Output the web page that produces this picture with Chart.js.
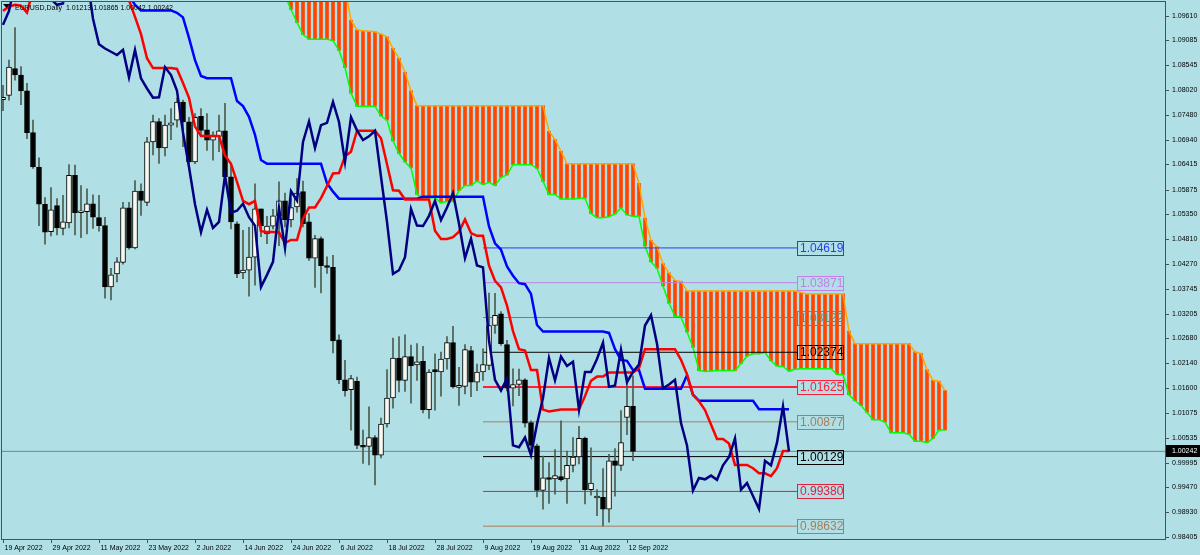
<!DOCTYPE html>
<html>
<head>
<meta charset="utf-8">
<title>EURUSD,Daily</title>
<script src="https://cdn.jsdelivr.net/npm/chart.js@4.4.0/dist/chart.umd.min.js"></script>
<style>
  html, body { margin: 0; padding: 0; background: #b0e0e6; }
  #wrap { width: 1200px; height: 555px; }
</style>
</head>
<body>
<div id="wrap"><canvas id="chart" width="1200" height="555"></canvas></div>
<script>
// daily candles, 19 Apr 2022 .. 13 Sep 2022 (bar index 0..105)
const opens = [1.0781,1.0790,1.0848,1.0834,1.0800,1.0710,1.0636,1.0556,1.0497,1.0553,
  1.0504,1.0516,1.0618,1.0538,1.0540,1.0557,1.0527,1.0510,1.0378,1.0406,
  1.0431,1.0548,1.0462,1.0584,1.0560,1.0690,1.0734,1.0677,1.0726,1.0737,
  1.0776,1.0733,1.0647,1.0745,1.0716,1.0694,1.0702,1.0714,1.0615,1.0514,
  1.0408,1.0414,1.0442,1.0546,1.0492,1.0509,1.0531,1.0563,1.0522,1.0550,
  1.0583,1.0518,1.0440,1.0482,1.0424,1.0420,1.0264,1.0178,1.0157,1.0175,
  1.0037,1.0035,1.0054,1.0016,1.0083,1.0139,1.0225,1.0177,1.0228,1.0210,
  1.0218,1.0114,1.0200,1.0195,1.0223,1.0258,1.0162,1.0164,1.0241,1.0173,
  1.0195,1.0209,1.0295,1.0320,1.0254,1.0160,1.0168,1.0178,1.0086,1.0036,
  0.9940,0.9968,0.9965,0.9970,0.9965,0.9994,1.0012,1.0053,0.9942,0.9924,
  0.9925,0.9900,1.0004,0.9994,1.0097,1.01213];
const highs = [1.0812,1.0866,1.0936,1.0852,1.0816,1.0737,1.0656,1.0570,1.0592,1.0568,
  1.0575,1.0641,1.0640,1.0596,1.0589,1.0576,1.0575,1.0528,1.0418,1.0441,
  1.0560,1.0560,1.0607,1.0600,1.0700,1.0748,1.0740,1.0748,1.0762,1.0785,
  1.0780,1.0743,1.0751,1.0762,1.0751,1.0712,1.0748,1.0773,1.0640,1.0518,
  1.0500,1.0506,1.0600,1.0546,1.0530,1.0545,1.0604,1.0580,1.0568,1.0611,
  1.0606,1.0536,1.0489,1.0486,1.0443,1.0446,1.0275,1.0220,1.0188,1.0184,
  1.0070,1.0120,1.0058,1.0096,1.0200,1.0268,1.0271,1.0275,1.0253,1.0256,
  1.0250,1.0200,1.0234,1.0238,1.0271,1.0293,1.0205,1.0254,1.0250,1.0212,
  1.0245,1.0365,1.0364,1.0325,1.0263,1.0202,1.0201,1.0181,1.0090,1.0040,
  1.0014,1.0000,1.0028,1.0090,1.0025,1.0054,1.0078,1.0055,1.0032,0.9942,
  0.9987,1.0018,1.0030,1.0112,1.0186,1.01865];
const lows = [1.0757,1.0780,1.0823,1.0770,1.0697,1.0633,1.0510,1.0470,1.0488,1.0490,
  1.0490,1.0505,1.0490,1.0484,1.0492,1.0504,1.0498,1.0354,1.0350,1.0389,
  1.0427,1.0459,1.0460,1.0532,1.0553,1.0662,1.0644,1.0660,1.0695,1.0722,
  1.0680,1.0643,1.0643,1.0705,1.0672,1.0651,1.0669,1.0610,1.0503,1.0398,
  1.0396,1.0358,1.0382,1.0486,1.0471,1.0503,1.0467,1.0507,1.0507,1.0539,
  1.0507,1.0435,1.0377,1.0365,1.0407,1.0236,1.0170,1.0143,1.0070,1.0030,
  0.9998,0.9995,0.9952,1.0010,1.0076,1.0117,1.0152,1.0153,1.0128,1.0177,
  1.0107,1.0095,1.0113,1.0143,1.0201,1.0160,1.0123,1.0148,1.0142,1.0155,
  1.0177,1.0200,1.0278,1.0252,1.0154,1.0122,1.0144,1.0076,1.0015,0.9926,
  0.9900,0.9912,0.9932,0.9960,0.9912,0.9980,0.9997,0.9911,0.9930,0.9886,
  0.9864,0.9872,0.9928,0.9983,1.0060,1.00042];
const closes = [1.0786,1.0851,1.0834,1.0800,1.0710,1.0636,1.0556,1.0496,1.0544,1.0505,
  1.0518,1.0618,1.0538,1.0542,1.0557,1.0528,1.0510,1.0378,1.0404,1.0432,
  1.0548,1.0462,1.0584,1.0564,1.0690,1.0734,1.0677,1.0726,1.0731,1.0776,
  1.0733,1.0647,1.0743,1.0715,1.0694,1.0702,1.0714,1.0615,1.0518,1.0406,
  1.0414,1.0442,1.0546,1.0510,1.0509,1.0531,1.0563,1.0522,1.0549,1.0580,
  1.0514,1.0440,1.0482,1.0424,1.0420,1.0262,1.0178,1.0155,1.0181,1.0037,
  1.0033,1.0054,1.0016,1.0083,1.0139,1.0225,1.0177,1.0228,1.0208,1.0217,
  1.0114,1.0195,1.0195,1.0223,1.0258,1.0163,1.0166,1.0243,1.0173,1.0195,
  1.0211,1.0295,1.0317,1.0256,1.0160,1.0168,1.0178,1.0085,1.0037,0.9940,
  0.9967,0.9964,0.9972,0.9963,0.9994,1.0012,1.0052,0.9942,0.9956,0.9928,
  0.9900,1.0004,0.9994,1.0043,1.0121,1.00242];

// navy price line, first 26 points before the candle closes continue it
const navyLead = [1.0942,1.0972,1.1030,1.1090,1.1050,1.1016,1.1018,1.1005,1.0997,1.0985,
  1.0988,1.1087,1.1150,1.1067,1.1047,1.0955,1.0900,1.0891,1.0884,1.0877,
  1.0888,1.0829,1.0888,1.0827,1.0805,1.0785];

// red line, index 0..131
const redLine = [1.0972,1.0981,1.0985,1.0983,1.0968,1.1018,1.1025,1.1030,1.1040,1.1045,
  1.1050,1.1055,1.1060,1.1060,1.1050,1.1040,1.1030,1.1020,1.1015,1.1010,
  1.1005,1.0995,1.0959,1.0922,1.0870,1.0849,1.0849,1.0849,1.0849,1.0847,
  1.0817,1.0785,1.0723,1.0703,1.0703,1.0703,1.0703,1.0661,1.0643,1.0604,
  1.0563,1.0556,1.0563,1.0498,1.0496,1.0496,1.0495,1.0473,1.0479,1.0479,
  1.0525,1.0549,1.0549,1.0569,1.0595,1.0622,1.0623,1.0659,1.0669,1.0714,
  1.0714,1.0714,1.0714,1.0698,1.0642,1.0586,1.0585,1.0566,1.0566,1.0566,
  1.0566,1.0566,1.0499,1.0481,1.0481,1.0485,1.0497,1.0523,1.0494,1.0488,
  1.0488,1.0424,1.0391,1.0377,1.0338,1.0283,1.0244,1.0241,1.0199,1.0199,
  1.0114,1.0110,1.0112,1.0114,1.0114,1.0114,1.0114,1.0143,1.0176,1.0185,
  1.0185,1.0194,1.0194,1.0194,1.0194,1.0194,1.0203,1.0244,1.0244,1.0244,
  1.0244,1.0244,1.0244,1.0221,1.0190,1.0146,1.0132,1.0113,1.0082,1.0051,
  1.0051,1.0041,0.9995,0.9995,0.9995,0.9988,0.9977,0.9977,0.9971,0.9988,
  1.0025,1.0025];

// blue line, index 0..131
const blueLine = [1.1050,1.1050,1.1050,1.1050,1.1050,1.1050,1.1050,1.1050,1.1050,1.1050,
  1.1040,1.1040,1.1040,1.1040,1.1030,1.1030,1.1030,1.1030,1.1020,1.1020,
  1.1010,1.1005,1.0985,1.0973,1.0973,1.0973,1.0973,1.0973,1.0973,1.0968,
  1.0958,1.0914,1.0866,1.0832,1.0827,1.0827,1.0827,1.0827,1.0827,1.0778,
  1.0767,1.0744,1.0705,1.0651,1.0643,1.0643,1.0643,1.0643,1.0643,1.0643,
  1.0643,1.0643,1.0643,1.0643,1.0601,1.0583,1.0568,1.0568,1.0568,1.0568,
  1.0568,1.0568,1.0568,1.0568,1.0568,1.0568,1.0568,1.0568,1.0568,1.0568,
  1.0572,1.0572,1.0572,1.0572,1.0572,1.0572,1.0572,1.0572,1.0572,1.0572,
  1.0572,1.0508,1.0472,1.0458,1.0422,1.0402,1.0386,1.0384,1.0363,1.0296,
  1.0282,1.0282,1.0282,1.0282,1.0282,1.0282,1.0282,1.0282,1.0282,1.0282,
  1.0282,1.0279,1.0244,1.0221,1.0219,1.0199,1.0199,1.0159,1.0159,1.0159,
  1.0159,1.0159,1.0159,1.0159,1.0188,1.0146,1.0133,1.0133,1.0133,1.0133,
  1.0133,1.0133,1.0133,1.0133,1.0133,1.0133,1.0115,1.0115,1.0115,1.0115,
  1.0115,1.0115];

// cloud edges, index 44..157
const cloudStart = 44;
const cloudLow = [1.1030,1.1025,1.1015,1.1005,1.0975,1.0947,1.0921,1.0911,1.0911,1.0911,
  1.0911,1.0908,1.0887,1.0850,1.0795,1.0767,1.0767,1.0767,1.0767,1.0746,
  1.0737,1.0692,1.0665,1.0647,1.0634,1.0577,1.0570,1.0570,1.0570,1.0559,
  1.0562,1.0562,1.0585,1.0596,1.0596,1.0606,1.0598,1.0603,1.0596,1.0614,
  1.0619,1.0641,1.0641,1.0641,1.0641,1.0633,1.0605,1.0577,1.0577,1.0567,
  1.0567,1.0567,1.0569,1.0569,1.0536,1.0527,1.0527,1.0529,1.0535,1.0548,
  1.0533,1.0530,1.0530,1.0466,1.0432,1.0418,1.0380,1.0343,1.0315,1.0313,
  1.0281,1.0248,1.0198,1.0196,1.0197,1.0198,1.0198,1.0198,1.0198,1.0213,
  1.0229,1.0234,1.0234,1.0237,1.0219,1.0208,1.0207,1.0197,1.0201,1.0202,
  1.0202,1.0202,1.0202,1.0202,1.0202,1.0190,1.0189,1.0146,1.0133,1.0123,
  1.0108,1.0092,1.0092,1.0087,1.0064,1.0064,1.0064,1.0061,1.0046,1.0046,
  1.0043,1.0052,1.0070,1.0070];
const cloudHigh = [1.1100,1.1100,1.1100,1.1100,1.1100,1.1100,1.1100,1.1100,1.1100,1.1100,
  1.1100,1.1100,1.1080,1.1020,1.0952,1.0931,1.0929,1.0928,1.0927,1.0922,
  1.0916,1.0891,1.0870,1.0840,1.0800,1.0768,1.0768,1.0768,1.0768,1.0768,
  1.0768,1.0768,1.0768,1.0768,1.0768,1.0768,1.0768,1.0768,1.0768,1.0768,
  1.0768,1.0768,1.0768,1.0768,1.0768,1.0768,1.0768,1.0713,1.0695,1.0670,
  1.0643,1.0643,1.0643,1.0643,1.0643,1.0643,1.0643,1.0643,1.0643,1.0643,
  1.0643,1.0643,1.0601,1.0526,1.0478,1.0464,1.0428,1.0408,1.0392,1.0390,
  1.0369,1.0369,1.0369,1.0369,1.0369,1.0369,1.0369,1.0369,1.0369,1.0369,
  1.0369,1.0369,1.0369,1.0369,1.0369,1.0369,1.0369,1.0369,1.0369,1.0366,
  1.0363,1.0363,1.0363,1.0363,1.0363,1.0363,1.0363,1.0283,1.0256,1.0256,
  1.0256,1.0256,1.0256,1.0256,1.0256,1.0256,1.0256,1.0256,1.0238,1.0235,
  1.0200,1.0177,1.0175,1.0155];

// horizontal levels
const levels = [1.04619, 1.03871, 1.03122, 1.02374, 1.01625, 1.00877, 1.00129, 0.99380, 0.98632];
const levelColors = ['#2e3cf2', '#c27fe6', '#4f9478', '#000000', '#ff1e3c', '#a87c5c', '#000000', '#e0203c', '#a87c5c'];
const levelStart = 80;
const levelEnd = 132.33;
const lastPrice = 1.00242;

// axis labels
const yTicks = [1.09610, 1.09085, 1.08545, 1.08020, 1.07480, 1.06940, 1.06415, 1.05875, 1.05350, 1.04810,
  1.04270, 1.03745, 1.03205, 1.02680, 1.02140, 1.01600, 1.01075, 1.00535, 0.99995, 0.99470, 0.98930, 0.98405];
const dateIdx = [0, 8, 16, 24, 32, 40, 48, 56, 64, 72, 80, 88, 96, 104];
const dateLabels = ['19 Apr 2022', '29 Apr 2022', '11 May 2022', '23 May 2022', '2 Jun 2022', '14 Jun 2022',
  '24 Jun 2022', '6 Jul 2022', '18 Jul 2022', '28 Jul 2022', '9 Aug 2022', '19 Aug 2022', '31 Aug 2022', '12 Sep 2022'];
const title = 'EURUSD,Daily  1.01213 1.01865 1.00042 1.00242';

function pts(arr, start) {
  return arr.map(function (v, i) { return { x: i + start, y: v }; });
}

var datasets = [];

// lines on top
datasets.push({ type: 'line', data: pts(navyLead.concat(closes), 0), borderColor: '#000080', borderWidth: 2.5, pointRadius: 0, order: 0 });
datasets.push({ type: 'line', data: pts(redLine, 0), borderColor: '#ff0000', borderWidth: 2.5, pointRadius: 0, order: 1 });
datasets.push({ type: 'line', data: pts(blueLine, 0), borderColor: '#0000ff', borderWidth: 2.5, pointRadius: 0, order: 2 });

// candles
datasets.push({
  type: 'bar', order: 3, barThickness: 5, borderWidth: 1, borderColor: '#000000', borderSkipped: false,
  data: opens.map(function (o, i) { return { x: i, y: [o, closes[i]] }; }),
  backgroundColor: opens.map(function (o, i) { return closes[i] >= o ? '#f8f8f0' : '#000000'; })
});
datasets.push({
  type: 'bar', order: 4, barThickness: 1, backgroundColor: '#4c5c4c',
  data: lows.map(function (l, i) { return { x: i, y: [l, highs[i]] }; })
});

// levels
levels.forEach(function (v, k) {
  datasets.push({
    type: 'line', order: 5, borderColor: levelColors[k], borderWidth: v === 1.01625 ? 2 : 1, pointRadius: 0,
    data: [{ x: levelStart, y: v }, { x: levelEnd, y: v }]
  });
});

// cloud
datasets.push({ type: 'line', data: pts(cloudHigh, cloudStart), borderColor: '#ffa500', borderWidth: 1.5, pointRadius: 0, order: 6 });
datasets.push({ type: 'line', data: pts(cloudLow, cloudStart), borderColor: '#00ff00', borderWidth: 1.5, pointRadius: 0, order: 6 });
datasets.push({
  type: 'bar', order: 7, barThickness: 3, backgroundColor: '#ff4500',
  data: cloudLow.map(function (v, i) { return { x: i + cloudStart, y: [v, cloudHigh[i]] }; })
});

// current price line
datasets.push({ type: 'line', order: 9, borderColor: '#74858a', borderWidth: 1, pointRadius: 0,
  data: [{ x: -1, y: lastPrice }, { x: 200, y: lastPrice }] });

const mt4Axes = {
  id: 'mt4Axes',
  afterDatasetsDraw(chart) {
    var c = chart.ctx, a = chart.chartArea, xs = chart.scales.x, ys = chart.scales.y;
    c.save();
    c.strokeStyle = '#505050';
    c.lineWidth = 1;
    c.strokeRect(a.left - 0.5, a.top - 0.5, a.right - a.left + 1, a.bottom - a.top + 1);

    c.fillStyle = '#000000';
    c.font = '7px "Liberation Sans"';
    c.textBaseline = 'middle';
    c.textAlign = 'left';
    yTicks.forEach(function (v) {
      var y = Math.round(ys.getPixelForValue(v)) + 0.5;
      c.beginPath(); c.moveTo(a.right, y); c.lineTo(a.right + 4, y); c.stroke();
      c.fillText(v.toFixed(5), a.right + 7, y);
    });
    dateIdx.forEach(function (d, k) {
      var x = Math.round(xs.getPixelForValue(d)) + 0.5;
      c.beginPath(); c.moveTo(x, a.bottom); c.lineTo(x, a.bottom + 4); c.stroke();
      c.fillText(dateLabels[k], x + 1, a.bottom + 9);
    });

    // last price tag
    var py = Math.round(ys.getPixelForValue(lastPrice));
    c.fillStyle = '#000000';
    c.fillRect(a.right + 1, py - 6, 34, 12);
    c.fillStyle = '#ffffff';
    c.fillText(lastPrice.toFixed(5), a.right + 7, py);

    // level labels
    c.font = '12px "Liberation Sans"';
    var bx = Math.round(xs.getPixelForValue(levelEnd));
    levels.forEach(function (v, k) {
      var y = Math.round(ys.getPixelForValue(v));
      c.strokeStyle = levelColors[k];
      c.strokeRect(bx + 0.5, y - 7 + 0.5, 46, 14);
      c.fillStyle = levelColors[k];
      c.fillText(v.toFixed(5), bx + 3, y + 1);
    });

    // title
    c.fillStyle = '#000000';
    c.beginPath(); c.moveTo(3, 4); c.lineTo(10, 4); c.lineTo(6.5, 8); c.closePath(); c.fill();
    c.font = '7px "Liberation Sans"';
    c.fillText(title, 15, 8);
    c.restore();
  }
};

new Chart(document.getElementById('chart'), {
  type: 'line',
  data: { datasets: datasets },
  options: {
    responsive: false,
    animation: false,
    devicePixelRatio: 1,
    layout: { padding: { left: 2, top: 2, right: 35, bottom: 16 } },
    datasets: { bar: { grouped: false } },
    elements: { line: { tension: 0, fill: false } },
    plugins: { legend: { display: false }, tooltip: { enabled: false } },
    scales: {
      x: { type: 'linear', min: -1 / 6, max: 1162 / 6, display: false, offset: false },
      y: { type: 'linear', min: 0.98356, max: 1.09911, display: false }
    }
  },
  plugins: [mt4Axes]
});
</script>
</body>
</html>
